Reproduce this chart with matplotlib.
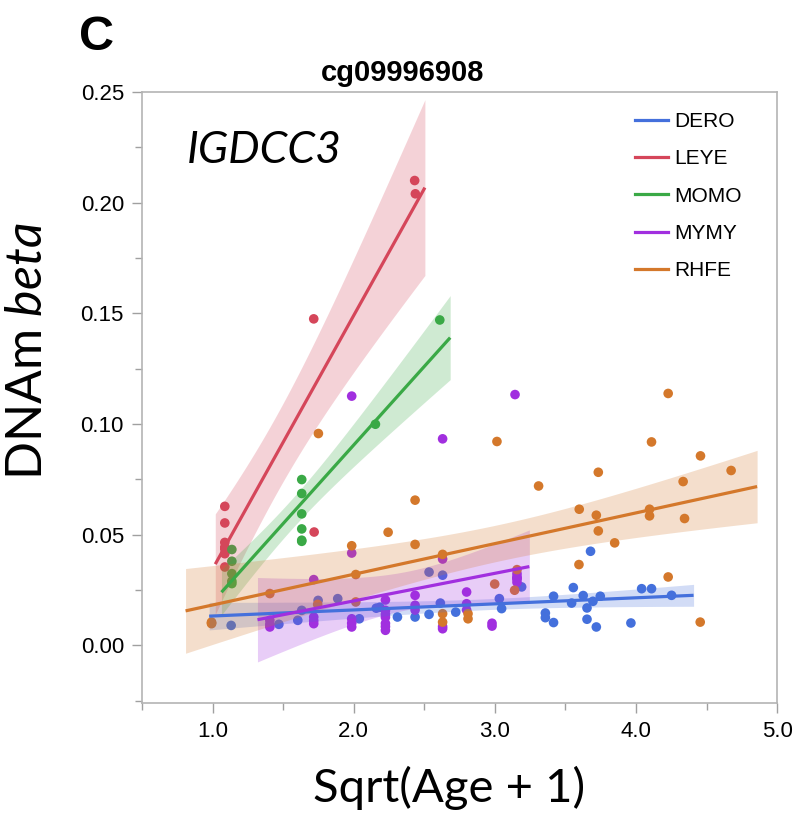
import numpy as np
import matplotlib
matplotlib.use("Agg")
import matplotlib.pyplot as plt
from matplotlib.ticker import MultipleLocator, FormatStrFormatter
from matplotlib.lines import Line2D

plt.rcParams['mathtext.fontset'] = 'custom'
plt.rcParams['mathtext.rm'] = 'Lato'
plt.rcParams['mathtext.it'] = 'Lato:italic'

groups = ["DERO", "LEYE", "MOMO", "MYMY", "RHFE"]
colors = {"DERO": "#4470dc", "LEYE": "#d5465a", "MOMO": "#3aa946",
          "MYMY": "#a12fdf", "RHFE": "#d4782b"}

dero_x = [1.132, 1.47, 1.604, 1.632, 1.748, 1.887, 2.04, 2.16, 2.185, 2.31,
          2.435, 2.534, 2.534, 2.614, 2.63, 2.723, 3.032, 3.048, 3.19, 3.358,
          3.358, 3.416, 3.416, 3.544, 3.556, 3.626, 3.653, 3.653, 3.678, 3.695,
          3.719, 3.747, 3.964, 4.04, 4.11, 4.252]
dero_y = [0.009, 0.0095, 0.0113, 0.0158, 0.0203, 0.0211, 0.012, 0.0168, 0.0172, 0.0128,
          0.0128, 0.0331, 0.014, 0.0191, 0.0317, 0.015, 0.0211, 0.0166, 0.0264, 0.0146,
          0.0125, 0.0222, 0.0103, 0.0191, 0.0261, 0.0225, 0.0169, 0.0118, 0.0425, 0.0199,
          0.0083, 0.0222, 0.0101, 0.0256, 0.0256, 0.0226]

leye_x = [1.087, 1.087, 1.087, 1.087, 1.087, 1.087, 1.087, 1.717, 1.72, 2.432, 2.437]
leye_y = [0.0628, 0.0553, 0.0465, 0.0444, 0.0435, 0.0414, 0.0354, 0.1475, 0.0512, 0.210, 0.204]

momo_x = [1.137, 1.137, 1.137, 1.137, 1.137, 1.632, 1.632, 1.632, 1.632, 1.632,
          1.632, 2.154, 2.61]
momo_y = [0.0433, 0.038, 0.0324, 0.029, 0.0279, 0.0749, 0.0686, 0.0594, 0.0526, 0.0475,
          0.047, 0.0999, 0.147]

mymy_x = [1.406, 1.406, 1.406, 1.717, 1.717, 1.717, 1.717, 1.986, 1.986, 1.986,
          1.986, 1.986, 2.225, 2.225, 2.225, 2.225, 2.225, 2.225, 2.225, 2.435,
          2.435, 2.435, 2.63, 2.63, 2.63, 2.63, 2.80, 2.80, 2.80, 2.98,
          2.98, 3.143, 3.157, 3.157, 3.157, 3.157, 3.157]
mymy_y = [0.0113, 0.0083, 0.0095, 0.0297, 0.0128, 0.0098, 0.0112, 0.1126, 0.0417, 0.012,
          0.0083, 0.0100, 0.0205, 0.0158, 0.0127, 0.0099, 0.0068, 0.0085, 0.0140, 0.0226,
          0.0181, 0.0160, 0.0933, 0.039, 0.0075, 0.0085, 0.0241, 0.0188, 0.0160, 0.0087,
          0.0100, 0.1133, 0.0324, 0.0303, 0.0285, 0.0300, 0.0310]

rhfe_x = [0.993, 0.993, 0.993, 1.406, 1.745, 1.75, 1.986, 2.015, 2.015, 2.244,
          2.435, 2.435, 2.63, 2.63, 2.63, 2.81, 2.81, 2.999, 3.015, 3.14,
          3.157, 3.31, 3.596, 3.598, 3.719, 3.733, 3.733, 3.849, 4.096, 4.096,
          4.11, 4.228, 4.228, 4.334, 4.344, 4.455, 4.457, 4.674]
rhfe_y = [0.0101, 0.0105, 0.0098, 0.0234, 0.0185, 0.0957, 0.045, 0.032, 0.0196, 0.0511,
          0.0656, 0.0456, 0.0411, 0.0143, 0.0105, 0.0143, 0.012, 0.0277, 0.0921, 0.0249,
          0.0342, 0.072, 0.0365, 0.0615, 0.0588, 0.0782, 0.0517, 0.0463, 0.0615, 0.0585,
          0.0919, 0.1138, 0.0309, 0.074, 0.0573, 0.0105, 0.0856, 0.079]

data = {"DERO": (dero_x, dero_y), "LEYE": (leye_x, leye_y), "MOMO": (momo_x, momo_y),
        "MYMY": (mymy_x, mymy_y), "RHFE": (rhfe_x, rhfe_y)}

x_ticks = [1.0, 2.0, 3.0, 4.0, 5.0]
y_ticks = [0.00, 0.05, 0.10, 0.15, 0.20, 0.25]


def t_quantile(df, p=0.975):
    z = 1.959964
    return (z + (z**3 + z) / (4 * df) + (5 * z**5 + 16 * z**3 + 3 * z) / (96 * df**2)
            + (3 * z**7 + 19 * z**5 + 17 * z**3 - 15 * z) / (384 * df**3))


fig = plt.figure(figsize=(7.93, 8.25), dpi=100)
ax = fig.add_axes([0.179, 0.148, 0.801, 0.7405])

tick_font = ['Liberation Sans Narrow', 'Liberation Sans', 'DejaVu Sans']
sans = ['Liberation Sans', 'DejaVu Sans']

for g in groups:
    x = np.asarray(data[g][0], float)
    y = np.asarray(data[g][1], float)
    c = colors[g]
    ax.scatter(x, y, s=48, color=c, edgecolors='none', zorder=2)
    n = len(x)
    xm = x.mean()
    sxx = ((x - xm) ** 2).sum()
    b = ((x - xm) * (y - y.mean())).sum() / sxx
    a = y.mean() - b * xm
    resid = y - (a + b * x)
    s = np.sqrt((resid ** 2).sum() / (n - 2))
    rng = x.max() - x.min()
    xs = np.linspace(x.min() - 0.05 * rng, x.max() + 0.05 * rng, 200)
    yh = a + b * xs
    hw = t_quantile(n - 2) * s * np.sqrt(1.0 / n + (xs - xm) ** 2 / sxx)
    ax.fill_between(xs, yh - hw, yh + hw, color=c, alpha=0.24, linewidth=0, zorder=3)
    ax.plot(xs, yh, color=c, lw=2.3, zorder=4, solid_capstyle='butt')

ax.set_xlim(0.5, 5.0)
ax.set_ylim(-0.026, 0.25)
ax.set_xticks(x_ticks)
ax.set_yticks(y_ticks)
ax.xaxis.set_minor_locator(MultipleLocator(0.5))
ax.yaxis.set_minor_locator(MultipleLocator(0.025))
ax.xaxis.set_major_formatter(FormatStrFormatter('%.1f'))
ax.yaxis.set_major_formatter(FormatStrFormatter('%.2f'))
for sp in ax.spines.values():
    sp.set_color('#b4b4b4')
    sp.set_linewidth(1.2)
ax.tick_params(which='both', direction='out', color='#a0a0a0', width=1.0)
ax.tick_params(which='major', length=7, labelsize=16, pad=6)
ax.tick_params(which='minor', length=5)
for lab in ax.get_xticklabels() + ax.get_yticklabels():
    lab.set_family(tick_font)

fig.text(0.508, 0.912, 'cg09996908', fontsize=21, fontweight='bold', family=sans,
         ha='center', va='center')
fig.text(0.566, 0.045, 'Sqrt(Age + 1)', fontsize=34, family='Lato',
         ha='center', va='center')
fig.text(0.035, 0.5745, 'DNAm $\\mathit{beta}$', fontsize=36, family='Lato',
         ha='center', va='center', rotation=90)

ax.text(0.07, 0.905, 'IGDCC3', transform=ax.transAxes, fontsize=32,
        family='Lato', style='italic', va='center', ha='left')
fig.text(0.099, 0.954, 'C', fontsize=35, family=sans, fontweight='bold',
         va='center', ha='left')

handles = [Line2D([0], [0], color=colors[g], lw=2.3) for g in groups]
leg = ax.legend(handles, groups, loc='upper left', bbox_to_anchor=(0.763, 0.981),
                frameon=False, fontsize=15, handlelength=1.6, handletextpad=0.3,
                labelspacing=0.88, borderaxespad=0)
for t in leg.get_texts():
    t.set_family(sans)

fig.savefig('out.png', dpi=100)
